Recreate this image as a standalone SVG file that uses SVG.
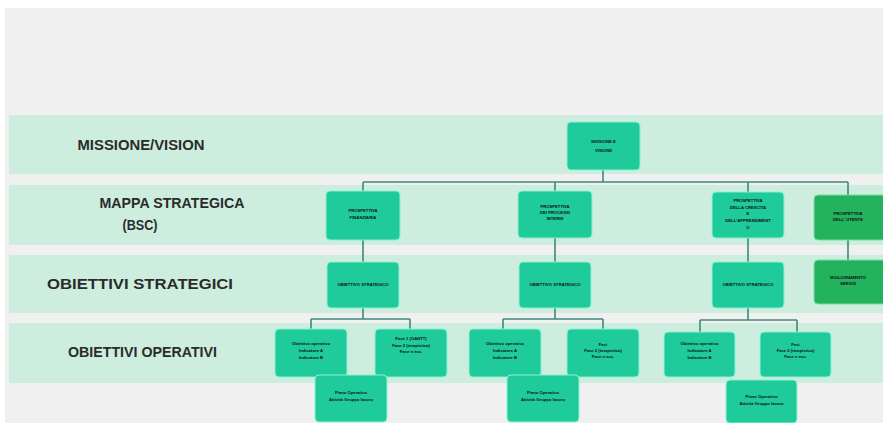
<svg xmlns="http://www.w3.org/2000/svg" width="883" height="423" viewBox="0 0 883 423">
  <style>
    .band { fill: #cdeddf; }
    .lvl { font-family: "Liberation Sans", Arial, sans-serif; font-weight: bold; font-size: 14px; fill: #2b2b2b; text-anchor: middle; }
    .box { fill: #1fcb9a; stroke: #8ef0d2; stroke-width: 1; }
    .box2 { fill: #22b35c; stroke: #7fdca4; stroke-width: 1; }
    .t { font-family: "Liberation Sans", Arial, sans-serif; font-weight: bold; font-size: 4.2px; fill: #111; text-anchor: middle; }
    .link { fill: none; stroke: #3d8b79; stroke-width: 1.6; }
  </style>

  <!-- page -->
  <rect x="0" y="0" width="883" height="423" fill="#ffffff"/>
  <rect x="5" y="8" width="878" height="415" fill="#f0f0f0"/>

  <!-- level bands -->
  <rect class="band" x="9" y="115" width="874" height="59"/>
  <rect class="band" x="9" y="185" width="874" height="60"/>
  <rect class="band" x="9" y="255" width="874" height="58"/>
  <rect class="band" x="9" y="323" width="874" height="60"/>

  <!-- level labels -->
  <text class="lvl" x="141" y="150" textLength="127" lengthAdjust="spacingAndGlyphs">MISSIONE/VISION</text>
  <text class="lvl" x="172" y="208" textLength="145" lengthAdjust="spacingAndGlyphs">MAPPA STRATEGICA</text>
  <text class="lvl" x="140" y="230" textLength="35" lengthAdjust="spacingAndGlyphs">(BSC)</text>
  <text class="lvl" x="140" y="289" style="font-size:15.5px" textLength="186" lengthAdjust="spacingAndGlyphs">OBIETTIVI STRATEGICI</text>
  <text class="lvl" x="142.5" y="357" textLength="149" lengthAdjust="spacingAndGlyphs">OBIETTIVI OPERATIVI</text>

  <!-- connectors -->
  <g id="connectors">
    <path class="link" d="M603 170 V182 M363 182 H848 M363 182 V191 M555 182 V191 M748 182 V192 M848 182 V195"/>
    <path class="link" d="M363 240 V262 M555 238 V262 M748 238 V262 M848 240 V260"/>
    <path class="link" d="M363 308 V319 M311 319 H410 M311 319 V329 M410 319 V329"/>
    <path class="link" d="M555 308 V319 M503 319 H603 M503 319 V329 M603 319 V329"/>
    <path class="link" d="M748 308 V320 M700 320 H797 M700 320 V332 M797 320 V332"/>
  </g>

  <!-- mission / vision -->
  <g id="root">
    <rect class="box" x="567" y="122" width="73" height="48" rx="4"/>
    <text class="t" x="603.5" y="143">MISSIONE E</text>
    <text class="t" x="603.5" y="152">VISIONE</text>
  </g>

  <!-- strategic map perspectives -->
  <g id="p-fin">
    <rect class="box" x="326" y="191" width="74" height="49" rx="4"/>
    <text class="t" x="363" y="212">PROSPETTIVA</text>
    <text class="t" x="363" y="219">FINANZIARIA</text>
  </g>
  <g id="p-proc">
    <rect class="box" x="518" y="191" width="74" height="47" rx="4"/>
    <text class="t" x="555" y="208">PROSPETTIVA</text>
    <text class="t" x="555" y="214">DEI PROCESSI</text>
    <text class="t" x="555" y="220">INTERNI</text>
  </g>
  <g id="p-cresc">
    <rect class="box" x="712" y="192" width="72" height="46" rx="4"/>
    <text class="t" x="748" y="202">PROSPETTIVA</text>
    <text class="t" x="748" y="209">DELLA CRESCITA</text>
    <text class="t" x="748" y="215">E</text>
    <text class="t" x="748" y="222">DELL'APPRENDIMENT</text>
    <text class="t" x="748" y="229">O</text>
  </g>
  <g id="p-utente">
    <rect class="box2" x="814" y="195" width="72" height="45" rx="4"/>
    <text class="t" x="848" y="215">PROSPETTIVA</text>
    <text class="t" x="848" y="221">DELL' UTENTE</text>
  </g>

  <!-- strategic objectives -->
  <g id="s1">
    <rect class="box" x="327" y="262" width="72" height="46" rx="4"/>
    <text class="t" x="363" y="286">OBIETTIVO STRATEGICO</text>
  </g>
  <g id="s2">
    <rect class="box" x="519" y="262" width="72" height="46" rx="4"/>
    <text class="t" x="555" y="286">OBIETTIVO STRATEGICO</text>
  </g>
  <g id="s3">
    <rect class="box" x="712" y="262" width="72" height="46" rx="4"/>
    <text class="t" x="748" y="286">OBIETTIVO STRATEGICO</text>
  </g>
  <g id="s4">
    <rect class="box2" x="814" y="260" width="72" height="44" rx="4"/>
    <text class="t" x="848" y="279">MIGLIORAMENTO</text>
    <text class="t" x="848" y="285">SERVIZI</text>
  </g>

  <!-- operational objectives -->
  <g id="o1a">
    <rect class="box" x="275" y="329" width="72" height="48" rx="4"/>
    <text class="t" x="311" y="345">Obiettivo operativo</text>
    <text class="t" x="311" y="352">Indicatore A</text>
    <text class="t" x="311" y="359">Indicatore B</text>
  </g>
  <g id="o1b">
    <rect class="box" x="375" y="329" width="72" height="48" rx="4"/>
    <text class="t" x="411" y="340">Fase 1 (GANTT)</text>
    <text class="t" x="411" y="347">Fase 2 (tempistica)</text>
    <text class="t" x="411" y="353">Fase n ecc.</text>
  </g>
  <g id="o1c">
    <rect class="box" x="315" y="375" width="72" height="47" rx="4"/>
    <text class="t" x="351" y="394">Piano Operativo</text>
    <text class="t" x="351" y="401">Attività Gruppo lavoro</text>
  </g>

  <g id="o2a">
    <rect class="box" x="469" y="329" width="72" height="48" rx="4"/>
    <text class="t" x="505" y="345">Obiettivo operativo</text>
    <text class="t" x="505" y="352">Indicatore A</text>
    <text class="t" x="505" y="359">Indicatore B</text>
  </g>
  <g id="o2b">
    <rect class="box" x="567" y="329" width="72" height="48" rx="4"/>
    <text class="t" x="603" y="346">Fasi</text>
    <text class="t" x="603" y="352">Fase 2 (tempistica)</text>
    <text class="t" x="603" y="358">Fase n ecc.</text>
  </g>
  <g id="o2c">
    <rect class="box" x="507" y="375" width="72" height="47" rx="4"/>
    <text class="t" x="543" y="394">Piano Operativo</text>
    <text class="t" x="543" y="401">Attività Gruppo lavoro</text>
  </g>

  <g id="o3a">
    <rect class="box" x="664" y="332" width="71" height="45" rx="4"/>
    <text class="t" x="699.5" y="345">Obiettivo operativo</text>
    <text class="t" x="699.5" y="352">Indicatore A</text>
    <text class="t" x="699.5" y="359">Indicatore B</text>
  </g>
  <g id="o3b">
    <rect class="box" x="760" y="332" width="71" height="45" rx="4"/>
    <text class="t" x="795.5" y="346">Fasi</text>
    <text class="t" x="795.5" y="352">Fase 2 (tempistica)</text>
    <text class="t" x="795.5" y="358">Fase n ecc.</text>
  </g>
  <g id="o3c">
    <rect class="box" x="726" y="380" width="71" height="43" rx="4"/>
    <text class="t" x="761.5" y="398">Piano Operativo</text>
    <text class="t" x="761.5" y="405">Attività Gruppo lavoro</text>
  </g>
</svg>
